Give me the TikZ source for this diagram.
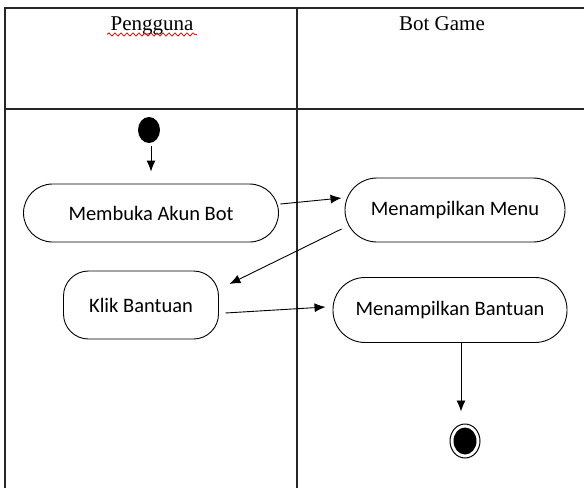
\documentclass[tikz,border=0pt]{standalone}
\usepackage{fontspec}
\setmainfont{Liberation Serif}
\newfontfamily\actfont{Carlito}
\usetikzlibrary{shapes.geometric,arrows.meta,calc,decorations.pathmorphing}

\tikzset{
  lane/.style={line width=1.2pt,black!85},
  act/.style={draw,line width=0.9pt,font=\actfont\fontsize{20.5}{24}\selectfont,inner sep=0pt},
  flow/.style={line width=0.9pt,-{Latex[length=11pt,width=9pt]}},
  startdot/.style={ellipse,fill=black,minimum width=22pt,minimum height=26pt,inner sep=0pt},
  enddot/.style={ellipse,draw,line width=1pt,minimum width=30pt,minimum height=34pt,inner sep=0pt},
  lanehead/.style={font=\fontsize{21}{24}\selectfont,anchor=base}
}

\begin{document}
\begin{tikzpicture}[x=1pt,y=-1pt]
	\useasboundingbox (0,0) rectangle (584,488);

	% swimlanes
	\draw [lane] (5,488) -- (5,8) -- (584,8);
	\draw [lane] (5,109) -- (584,109);
	\draw [lane] (297,8) -- (297,488);
	\node [lanehead] (peng) at (152,30) {Pengguna};
	\node [lanehead] (bot) at (442,30) {Bot Game};
	\draw [red,line width=0.8pt,decorate,decoration={snake,amplitude=1.6pt,segment length=6pt}]
		($(peng.base west)+(0,4.5)$) -- ($(peng.base east)+(0,4.5)$);

	% activities
	\node [startdot] (start) at (149,130) {};
	\node [act,minimum width=255pt,minimum height=58pt,rounded corners=29pt] (buka) at (151,213) {Membuka Akun Bot};
	\node [act,minimum width=155pt,minimum height=68pt,rounded corners=25pt] (klik) at (141,305) {Klik Bantuan};
	\node [act,minimum width=220pt,minimum height=64pt,rounded corners=32pt] (menu) at (455,210) {Menampilkan Menu};
	\node [act,minimum width=234pt,minimum height=65pt,rounded corners=32pt] (bantuan) at (450,310) {Menampilkan Bantuan};
	\node [enddot] (end) at (465,441) {};
	\fill (end) ellipse (11.5 and 13.5);

	% flows
	\draw [flow] ($(start.south)+(2,3)$) -- ($(buka.north)+(0,-12)$);
	\draw [flow] ($(buka.east)+(1.5,-9)$) -- ($(menu.west)+(-3,-12)$);
	\draw [flow] ($(menu.west)+(-3,19)$) -- ($(klik.east)+(10.5,-21)$);
	\draw [flow] ($(klik.east)+(6.5,8)$) -- ($(bantuan.west)+(-7,-3)$);
	\draw [flow] ($(bantuan.south)+(11,0)$) -- ($(end.north)+(-4,-12)$);
\end{tikzpicture}
\end{document}
